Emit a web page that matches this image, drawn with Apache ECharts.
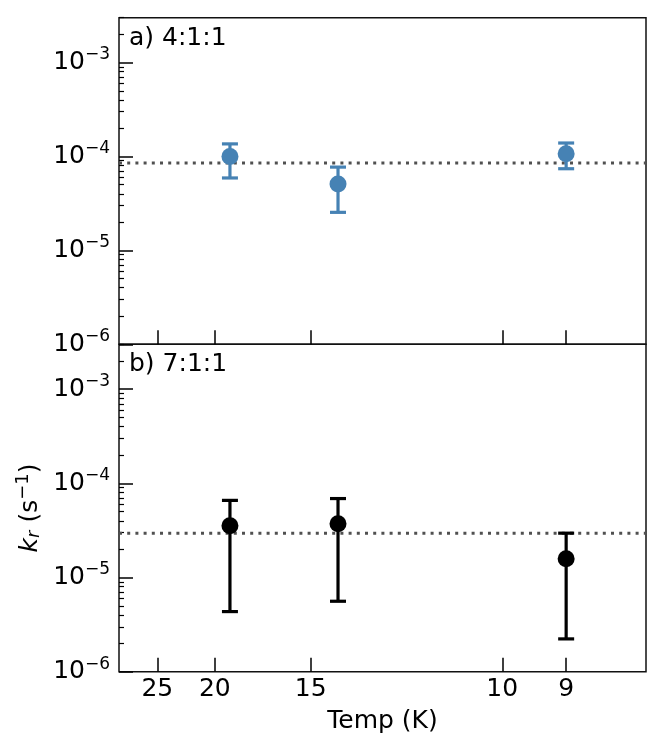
<!DOCTYPE html>
<html>
<head>
<meta charset="utf-8">
<script src="https://cdn.jsdelivr.net/npm/echarts@6/dist/echarts.min.js"></script>
<style>
html,body{margin:0;padding:0;background:#fff;}
#chart{width:664px;height:750px;}
</style>
</head>
<body>
<div id="chart"></div>
<script>
// ---- data ----
const temps = [19, 14, 9];                       // K
const kA = [1.00e-4, 5.08e-5, 1.07e-4];          // panel a) 4:1:1
const kA_low = [5.9e-5, 2.54e-5, 7.4e-5];
const kA_high = [1.36e-4, 7.7e-5, 1.39e-4];
const kA_mean = 8.5e-5;
const kB = [3.55e-5, 3.72e-5, 1.58e-5];          // panel b) 7:1:1
const kB_low = [4.35e-6, 5.6e-6, 2.23e-6];
const kB_high = [6.6e-5, 6.9e-5, 2.96e-5];
const kB_mean = 2.96e-5;
const xTickTemps = [25, 20, 15, 10, 9];
const yTickExps = [-6, -5, -4, -3];
const panelLabels = ['a) 4:1:1', 'b) 7:1:1'];
const yTitle = '{i|k}{sub|r} (s{sup|\u22121})';

const FONT = 'DejaVu Sans';
const FS = 25;
const BLUE = '#4682b4';
const xMin = 1 / 30, xMax = 1 / 8;
const yMin = 1e-6, yMax = 3e-3;

const xTickVals = xTickTemps.map(t => 1 / t);
const yMajor = yTickExps.map(e => Math.pow(10, e));
const yMinor = [];
yTickExps.forEach(e => { for (let m = 2; m <= 9; m++) { const v = m * Math.pow(10, e); if (v <= yMax) yMinor.push(v); } });

function pts(vals) { return temps.map((t, i) => [1 / t, vals[i]]); }
function bars(lo, hi) { return temps.map((t, i) => [1 / t, lo[i], hi[i]]); }

function yLabel(v) {
  const e = Math.round(Math.log10(v));
  return '10{sup|' + (e < 0 ? '\u2212' : '') + Math.abs(e) + '}';
}

function xAxisCfg(gridIndex, showLabels) {
  return {
    type: 'value', gridIndex, min: xMin, max: xMax,
    axisLine: { show: false },
    splitLine: { show: false },
    axisTick: { show: true, inside: true, length: 14, customValues: xTickVals, lineStyle: { color: '#000', width: 1.5 } },
    axisLabel: {
      show: showLabels, customValues: xTickVals, margin: 5,
      fontSize: FS, fontFamily: FONT, color: '#000',
      formatter: v => String(Math.round(1 / v))
    },
    name: showLabels ? 'Temp (K)' : '',
    nameLocation: 'middle', nameGap: 37,
    nameTextStyle: { fontSize: FS, fontFamily: FONT, color: '#000' }
  };
}
function yMajorCfg(gridIndex) {
  return {
    type: 'log', logBase: 10, gridIndex, min: yMin, max: yMax, position: 'left',
    axisLine: { show: false },
    splitLine: { show: false },
    axisTick: { show: true, inside: true, length: 14, customValues: yMajor, lineStyle: { color: '#000', width: 1.5 } },
    axisLabel: {
      customValues: yMajor, margin: 9,
      fontSize: FS, fontFamily: FONT, color: '#000',
      formatter: yLabel,
      rich: { sup: { fontSize: 17, fontFamily: FONT, color: '#000', padding: [0, 0, 15, 0] } }
    }
  };
}
function yMinorCfg(gridIndex) {
  return {
    type: 'log', logBase: 10, gridIndex, min: yMin, max: yMax, position: 'left', offset: 0,
    axisLine: { show: false },
    splitLine: { show: false },
    axisLabel: { show: false },
    axisTick: { show: true, inside: true, length: 5, customValues: yMinor, lineStyle: { color: '#000', width: 1.2 } }
  };
}

function errSeries(xi, yi, data, color) {
  return {
    type: 'custom', xAxisIndex: xi, yAxisIndex: yi, data,
    encode: { x: 0, y: [1, 2] }, silent: true, z: 3,
    renderItem: function (params, api) {
      const x = api.value(0);
      const lo = api.coord([x, api.value(1)]);
      const hi = api.coord([x, api.value(2)]);
      const w = 8;
      const st = { stroke: color, lineWidth: 3.2 };
      return {
        type: 'group', children: [
          { type: 'line', shape: { x1: lo[0], y1: lo[1], x2: hi[0], y2: hi[1] }, style: st },
          { type: 'line', shape: { x1: lo[0] - w, y1: lo[1], x2: lo[0] + w, y2: lo[1] }, style: st },
          { type: 'line', shape: { x1: hi[0] - w, y1: hi[1], x2: hi[0] + w, y2: hi[1] }, style: st }
        ]
      };
    }
  };
}
function ptSeries(xi, yi, data, color) {
  return {
    type: 'scatter', xAxisIndex: xi, yAxisIndex: yi, data,
    symbol: 'circle', symbolSize: 17, z: 4, silent: true,
    itemStyle: { color, opacity: 1 }
  };
}
function meanSeries(xi, yi, mean) {
  return {
    type: 'line', xAxisIndex: xi, yAxisIndex: yi,
    data: [[xMin, mean], [xMax, mean]],
    showSymbol: false, symbol: 'none', silent: true, z: 2,
    lineStyle: { color: '#505050', width: 3, type: [3, 5.2], cap: 'butt' }
  };
}

const chart = echarts.init(document.getElementById('chart'), null, { renderer: 'canvas' });
chart.setOption({
  animation: false,
  backgroundColor: '#fff',
  title: [
    { text: panelLabels[0], left: 129, top: 26, padding: 0, textStyle: { fontSize: FS, fontWeight: 'normal', fontFamily: FONT, color: '#000' } },
    { text: panelLabels[1], left: 129, top: 352, padding: 0, textStyle: { fontSize: FS, fontWeight: 'normal', fontFamily: FONT, color: '#000' } }
  ],
  graphic: [{
    type: 'text', x: 30, y: 508, rotation: Math.PI / 2, silent: true,
    style: {
      text: yTitle, fontSize: FS, fontFamily: FONT, fill: '#000',
      align: 'center', verticalAlign: 'middle',
      rich: {
        i: { fontSize: FS, fontFamily: FONT, fontStyle: 'italic', fill: '#000' },
        sub: { fontSize: 18, fontFamily: FONT, fontStyle: 'italic', fill: '#000', padding: [9, 0, 0, 0] },
        sup: { fontSize: 18, fontFamily: FONT, fill: '#000', padding: [0, 0, 14, 0] }
      }
    }
  }],
  grid: [
    { left: 119, right: 18, top: 17.7, height: 326.6, show: true, borderColor: '#111', borderWidth: 1.5, backgroundColor: 'transparent' },
    { left: 119, right: 18, top: 344.3, height: 327.4, show: true, borderColor: '#111', borderWidth: 1.5, backgroundColor: 'transparent' }
  ],
  xAxis: [xAxisCfg(0, false), xAxisCfg(1, true)],
  yAxis: [yMajorCfg(0), yMinorCfg(0), yMajorCfg(1), yMinorCfg(1)],
  series: [
    meanSeries(0, 0, kA_mean),
    errSeries(0, 0, bars(kA_low, kA_high), BLUE),
    ptSeries(0, 0, pts(kA), BLUE),
    meanSeries(1, 2, kB_mean),
    errSeries(1, 2, bars(kB_low, kB_high), '#000'),
    ptSeries(1, 2, pts(kB), '#000')
  ]
});
</script>
</body>
</html>
